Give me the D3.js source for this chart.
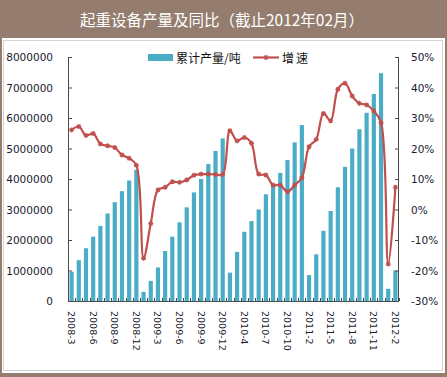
<!DOCTYPE html>
<html lang="zh">
<head>
<meta charset="UTF-8">
<title>起重设备产量及同比</title>
<script src="https://d3js.org/d3.v7.min.js"></script>
<style>
  body { margin: 0; background: #fff; }
  svg { display: block; }
  .tick-label { font-family: "DejaVu Sans", sans-serif; fill: #1a1a2e; }
  .cjk { font-family: "Noto Sans CJK SC", sans-serif; }
</style>
</head>
<body>
<div id="chart"></div>
<script>
// months (2010-2 and 2011-2 are Jan+Feb combined)
var categories = [
  "2008-3","2008-4","2008-5","2008-6","2008-7","2008-8","2008-9","2008-10","2008-11","2008-12",
  "2009-1","2009-2","2009-3","2009-4","2009-5","2009-6","2009-7","2009-8","2009-9","2009-10","2009-11","2009-12",
  "2010-2","2010-3","2010-4","2010-5","2010-6","2010-7","2010-8","2010-9","2010-10","2010-11","2010-12",
  "2011-2","2011-3","2011-4","2011-5","2011-6","2011-7","2011-8","2011-9","2011-10","2011-11","2011-12",
  "2012-1","2012-2"
];

// 累计产量/吨
var output = [
  960000,1340000,1730000,2110000,2460000,2870000,3240000,3600000,3950000,4300000,
  300000,660000,1100000,1640000,2110000,2580000,3070000,3560000,4000000,4490000,4920000,5330000,
  930000,1610000,2270000,2620000,3000000,3500000,3850000,4200000,4620000,5200000,5770000,
  850000,1530000,2300000,2950000,3730000,4400000,5000000,5630000,6170000,6790000,7470000,
  400000,1000000
];

// 增速 (%)
var growth = [
  26.1,27.2,24.3,24.9,21.5,20.9,20.3,17.9,16.8,14.5,
  -16.0,-4.6,6.4,7.3,9.1,8.9,9.7,11.2,11.6,11.6,11.5,11.5,
  25.8,22.5,23.6,21.7,11.6,11.3,8.0,8.0,5.8,8.0,10.4,
  20.6,23.0,31.5,29.1,39.4,41.4,37.2,34.8,34.3,32.3,28.5,
  -17.9,7.3
];

var leftTicks = [0,1000000,2000000,3000000,4000000,5000000,6000000,7000000,8000000];
var rightTicks = [-30,-20,-10,0,10,20,30,40,50];
var xTickLabels = categories.filter(function(d, i) { return i % 3 === 0; });

var W = 447, H = 377;
var plot = {left: 68, right: 399, top: 57, bottom: 301};

var svg = d3.select("#chart").append("svg")
  .attr("width", W)
  .attr("height", H);

// frame + header
svg.append("rect").attr("width", W).attr("height", H).attr("fill", "#947d6e");
svg.append("rect").attr("x", 2).attr("y", 38).attr("width", 443).attr("height", 335).attr("fill", "#fff");
svg.append("rect").attr("x", 3.5).attr("y", 40.5).attr("width", 439).attr("height", 330)
  .attr("fill", "none").attr("stroke", "#d4d4d4");

svg.append("text")
  .attr("class", "cjk")
  .attr("x", 222).attr("y", 19)
  .attr("text-anchor", "middle")
  .attr("dominant-baseline", "central")
  .attr("font-size", 15.5)
  .attr("fill", "#fff")
  .text("起重设备产量及同比（截止2012年02月）");

// scales
var x = d3.scaleBand().domain(categories).range([plot.left, plot.right]);
var yL = d3.scaleLinear().domain([0, 8000000]).range([plot.bottom, plot.top]);
var yR = d3.scaleLinear().domain([-30, 50]).range([plot.bottom, plot.top]);

var barW = x.bandwidth() * 0.58;

// bars
svg.append("g").selectAll("rect")
  .data(output)
  .join("rect")
    .attr("x", function(d, i) { return x(categories[i]) + (x.bandwidth() - barW) / 2; })
    .attr("y", function(d) { return yL(d); })
    .attr("width", barW)
    .attr("height", function(d) { return plot.bottom - yL(d); })
    .attr("fill", "#4bacc6");

// axes
var axisColor = "#4a4a4a";

var leftAxis = svg.append("g")
  .attr("transform", "translate(" + plot.left + ",0)")
  .call(d3.axisRight(yL).tickValues(leftTicks).tickSize(4).tickFormat(""));
leftAxis.select(".domain").remove();
leftAxis.selectAll("line").attr("stroke", axisColor);
svg.append("line").attr("x1", plot.left + 0.5).attr("x2", plot.left + 0.5)
  .attr("y1", plot.top).attr("y2", plot.bottom).attr("stroke", axisColor);

svg.append("g").selectAll("text")
  .data(leftTicks)
  .join("text")
    .attr("class", "tick-label")
    .attr("x", 53)
    .attr("y", function(d) { return yL(d); })
    .attr("text-anchor", "end")
    .attr("dominant-baseline", "central")
    .attr("font-size", 10.5)
    .text(function(d) { return d; });

var rightAxis = svg.append("g")
  .attr("transform", "translate(" + plot.right + ",0)")
  .call(d3.axisLeft(yR).tickValues(rightTicks).tickSize(4).tickFormat(""));
rightAxis.select(".domain").remove();
rightAxis.selectAll("line").attr("stroke", axisColor);
svg.append("line").attr("x1", plot.right - 0.5).attr("x2", plot.right - 0.5)
  .attr("y1", plot.top).attr("y2", plot.bottom).attr("stroke", axisColor);

svg.append("g").selectAll("text")
  .data(rightTicks)
  .join("text")
    .attr("class", "tick-label")
    .attr("x", 411)
    .attr("y", function(d) { return yR(d); })
    .attr("dominant-baseline", "central")
    .attr("font-size", 10.5)
    .text(function(d) { return d + "%"; });

// bottom axis: category boundary ticks pointing up
var bounds = categories.map(function(c) { return x(c); }).concat([plot.right]);
svg.append("g").selectAll("line")
  .data(bounds)
  .join("line")
    .attr("x1", function(d) { return Math.round(d) + 0.5; })
    .attr("x2", function(d) { return Math.round(d) + 0.5; })
    .attr("y1", plot.bottom - 3)
    .attr("y2", plot.bottom)
    .attr("stroke", axisColor);
svg.append("line").attr("x1", plot.left).attr("x2", plot.right)
  .attr("y1", plot.bottom + 0.5).attr("y2", plot.bottom + 0.5).attr("stroke", axisColor);

svg.append("g").selectAll("text")
  .data(xTickLabels)
  .join("text")
    .attr("class", "tick-label")
    .attr("transform", function(d) {
      return "translate(" + (x(d) + x.bandwidth() / 2) + "," + (plot.bottom + 10) + ") rotate(90)";
    })
    .attr("dominant-baseline", "central")
    .attr("font-size", 9.5)
    .text(function(d) { return d; });

// growth line
var lineColor = "#c0504d";
var line = d3.line()
  .x(function(d, i) { return x(categories[i]) + x.bandwidth() / 2; })
  .y(function(d) { return yR(d); })
  .curve(d3.curveCatmullRom.alpha(0.5));

svg.append("path")
  .datum(growth)
  .attr("d", line)
  .attr("fill", "none")
  .attr("stroke", lineColor)
  .attr("stroke-width", 2.2);

var markerPath = "M-2.5,0H2.5M0,-2.5V2.5M-1.8,-1.8L1.8,1.8M-1.8,1.8L1.8,-1.8";
svg.append("g").selectAll("path")
  .data(growth)
  .join("path")
    .attr("transform", function(d, i) {
      return "translate(" + (x(categories[i]) + x.bandwidth() / 2) + "," + yR(d) + ")";
    })
    .attr("d", markerPath)
    .attr("stroke", lineColor)
    .attr("stroke-width", 1.2)
    .attr("fill", "none");

// legend
var lg = svg.append("g");
lg.append("rect").attr("x", 148).attr("y", 54).attr("width", 25).attr("height", 7).attr("fill", "#4bacc6");
lg.append("text").attr("class", "cjk").attr("x", 176).attr("y", 57.5)
  .attr("dominant-baseline", "central").attr("font-size", 12).attr("fill", "#111")
  .text("累计产量/吨");
lg.append("line").attr("x1", 253).attr("x2", 279).attr("y1", 57.5).attr("y2", 57.5)
  .attr("stroke", lineColor).attr("stroke-width", 2.2);
lg.append("path").attr("transform", "translate(266,57.5)").attr("d", markerPath)
  .attr("stroke", lineColor).attr("stroke-width", 1.2);
lg.append("text").attr("class", "cjk").attr("x", 282).attr("y", 57.5)
  .attr("dominant-baseline", "central").attr("font-size", 12).attr("fill", "#111")
  .attr("letter-spacing", 2)
  .text("增速");
</script>
</body>
</html>
